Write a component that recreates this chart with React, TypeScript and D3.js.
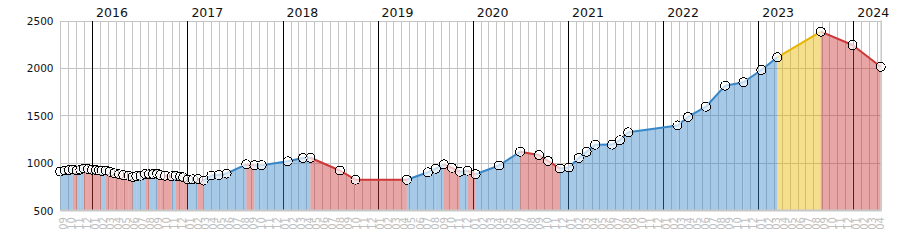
import React from 'react';
import * as d3 from 'd3';

const dates = [
  '2015-09-01','2015-09-19','2015-10-04','2015-10-19','2015-11-04','2015-11-17','2015-11-30','2015-12-16',
  '2016-01-01','2016-01-16','2016-01-28','2016-02-07','2016-02-23','2016-03-09','2016-03-27','2016-04-14',
  '2016-04-30','2016-05-20','2016-06-05','2016-06-19','2016-07-05','2016-07-23','2016-08-07','2016-08-22',
  '2016-09-07','2016-09-19','2016-10-07','2016-11-02','2016-11-17','2016-12-04','2016-12-16','2017-01-03',
  '2017-01-22','2017-02-10','2017-03-04','2017-04-03','2017-05-01','2017-05-31','2017-08-15','2017-09-15',
  '2017-10-13','2018-01-21','2018-03-20','2018-04-18','2018-08-09','2018-10-08','2019-04-23','2019-07-13',
  '2019-08-12','2019-09-12','2019-10-13','2019-11-13','2019-12-12','2020-01-12','2020-04-11','2020-07-01',
  '2020-09-11','2020-10-16','2020-12-01','2021-01-04','2021-02-11','2021-03-13','2021-04-15','2021-06-19',
  '2021-07-19','2021-08-20','2022-02-25','2022-04-06','2022-06-14','2022-08-27','2022-11-05','2023-01-13',
  '2023-03-15','2023-08-29','2023-12-29','2024-04-15'
];
const values = [
  906, 917, 922, 927, 917, 927, 938, 931,
  926, 922, 917, 912, 917, 904, 887, 877,
  869, 862, 848, 856, 862, 880, 877, 880,
  883, 869, 862, 856, 862, 854, 845, 822,
  824, 827, 811, 864, 869, 885, 982, 972,
  973, 1014, 1049, 1051, 917, 820, 819, 898,
  936, 982, 946, 904, 915, 877, 970, 1115,
  1080, 1019, 938, 949, 1049, 1115, 1189, 1190,
  1236, 1320, 1392, 1482, 1590, 1812, 1848, 1978,
  2112, 2382, 2241, 2012
];
const yTicks = [500, 1000, 1500, 2000, 2500];
const yearLabels = ['2016', '2017', '2018', '2019', '2020', '2021', '2022', '2023', '2024'];
const highlightFrom = '2023-03-15';
const highlightTo = '2023-08-29';
const domainStart = '2015-09-01';
const domainEnd = '2024-04-15';

const UP = 'rgb(55,135,200)';
const DOWN = 'rgb(205,55,55)';
const HL = 'rgb(232,182,0)';

export default function App() {
  const W = 900, H = 250;
  const parse = d3.utcParse('%Y-%m-%d');
  const x = d3.scaleUtc().domain([parse(domainStart)!, parse(domainEnd)!]).range([60.3, 880.7]);
  const y = d3.scaleLinear().domain([500, 2500]).range([210, 20.5]);
  const months = d3.utcMonth.range(parse(domainStart)!, parse(domainEnd)!);
  const fmtM = d3.utcFormat('%m');
  const pts = dates.map((d, i) => ({ d: parse(d)!, v: values[i], s: d }));
  const segs = pts.slice(0, -1).map((p, i) => {
    const q = pts[i + 1];
    let c = q.v >= p.v ? UP : DOWN;
    if (p.s === highlightFrom && q.s === highlightTo) c = HL;
    return { p, q, c };
  });
  const area = d3.area<any>().x((p) => x(p.d)).y0(y(500)).y1((p) => y(p.v));
  const line = d3.line<any>().x((p) => x(p.d)).y((p) => y(p.v));
  const cx = (v: number) => Math.round(v) + 0.5;
  const x0 = 60.3, x1 = 880.7, yTop = y(2500), yBot = y(500);
  const font = 'DejaVu Sans, Verdana, sans-serif';

  return (
    <svg width={W} height={H} style={{ position: 'absolute', left: 0, top: 0, background: '#fff' }}>
      <g shapeRendering="crispEdges">
        {months.map((m, i) => (
          <line key={i} x1={cx(x(m))} x2={cx(x(m))} y1={yTop} y2={yBot} stroke="#c4c4c4" strokeWidth={1} />
        ))}
        {yTicks.map((t) => (
          <line key={t} x1={x0} x2={x1} y1={cx(y(t))} y2={cx(y(t))} stroke="#c4c4c4" strokeWidth={1} />
        ))}
        {yearLabels.map((yl) => {
          const xx = cx(x(parse(yl + '-01-01')!));
          return <line key={yl} x1={xx} x2={xx} y1={yTop} y2={yBot} stroke="#000" strokeWidth={1} />;
        })}
      </g>
      {segs.map((s, i) => (
        <path key={'a' + i} d={area([s.p, s.q])!} fill={s.c} fillOpacity={0.45} stroke="none" />
      ))}
      <line x1={x0} x2={x1 + 1} y1={yBot + 0.5} y2={yBot + 0.5} stroke="#c8c8c8" strokeWidth={2} />
      <line x1={x1 + 0.5} x2={x1 + 0.5} y1={yTop} y2={yBot} stroke="#c8c8c8" strokeWidth={1.5} />
      {segs.map((s, i) => (
        <path key={'l' + i} d={line([s.p, s.q])!} fill="none" stroke={s.c} strokeWidth={2} />
      ))}
      {pts.map((p, i) => (
        <circle key={'c' + i} cx={x(p.d)} cy={y(p.v)} r={4.5} fill="rgba(255,255,255,0.7)" stroke="#000" strokeWidth={1} shapeRendering="crispEdges" />
      ))}
      {yTicks.map((t) => (
        <text key={'t' + t} x={53.5} y={y(t) + 4.5} textAnchor="end" fontFamily={font} fontSize={10.5} fill="#111">{t}</text>
      ))}
      {yearLabels.map((yl) => (
        <text key={'y' + yl} x={x(parse(yl + '-01-01')!) + 4} y={17} fontFamily={font} fontSize={12.5} fill="#111">{yl}</text>
      ))}
      {months.map((m, i) => {
        const bx = x(m) + 6.6;
        return (
          <text key={'m' + i} x={bx} y={217} transform={`rotate(-90 ${bx} 217)`} textAnchor="end" fontFamily={font} fontSize={10} fill="#c0c0c0">{fmtM(m)}</text>
        );
      })}
    </svg>
  );
}
